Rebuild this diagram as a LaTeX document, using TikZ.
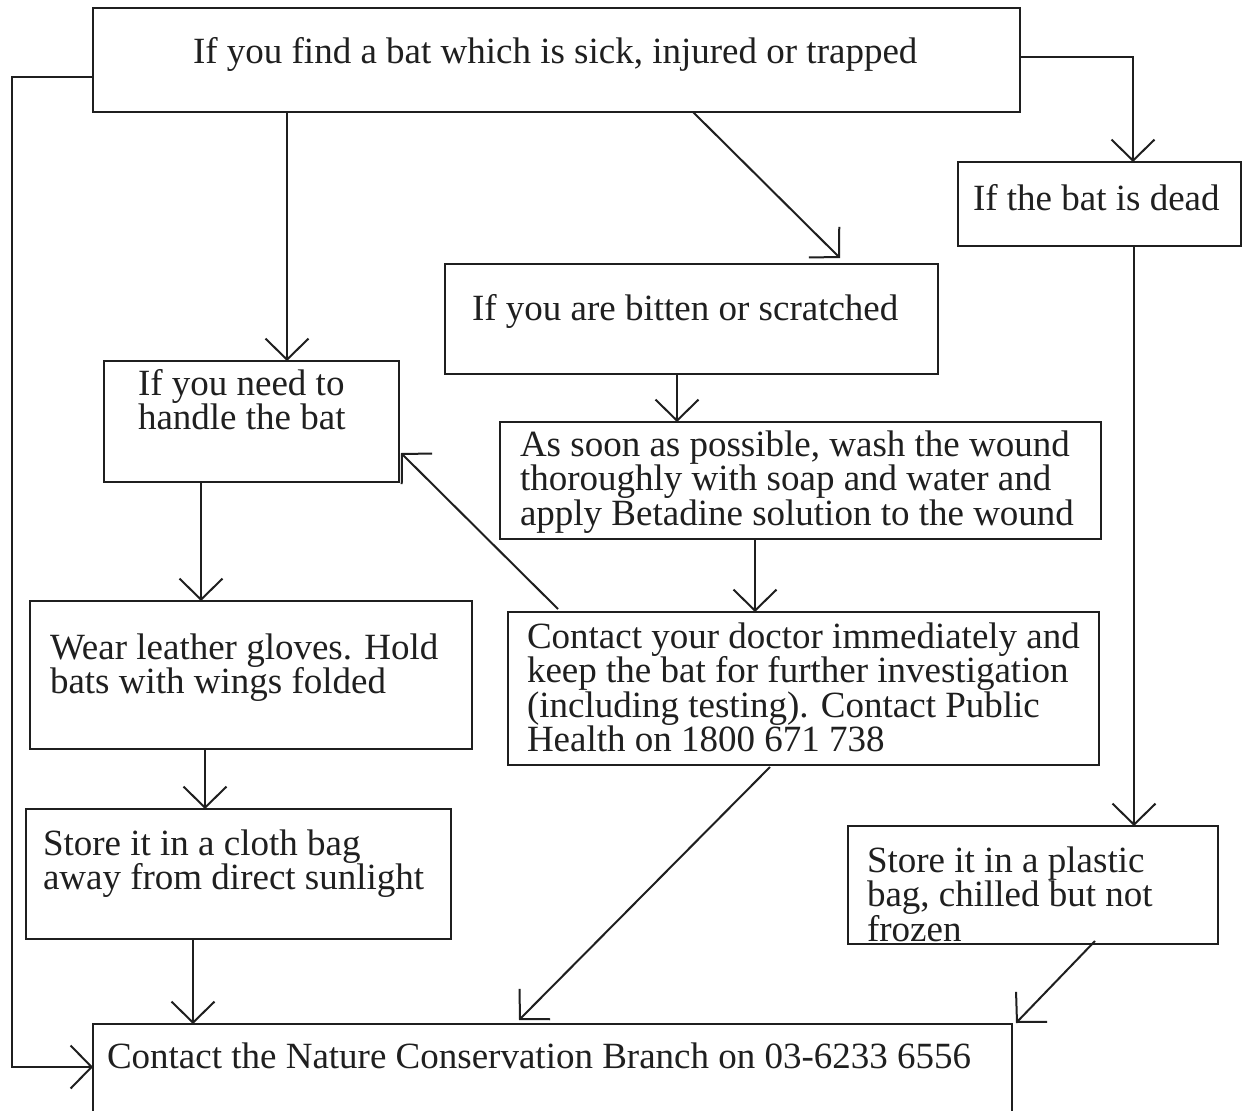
\documentclass[tikz,border=0pt]{standalone}
\usepackage{fontspec}
\setmainfont{Liberation Serif}
\usetikzlibrary{arrows.meta}
\newcommand\mytxt[1]{\vtop{\baselineskip=34.5pt\lineskiplimit=-100pt\lineskip=0pt\halign{##\hfil\cr#1\crcr}}}
\begin{document}
\begin{tikzpicture}[x=1pt,y=-1pt,
  box/.style={draw=black!88, line width=2.6pt, inner sep=0pt, outer sep=0pt, anchor=north west},
  txt/.style={anchor=base west, inner sep=0pt, outer sep=0pt, text=black!88, font=\fontsize{37}{34.5}\selectfont},
  conn/.style={draw=black!88, line width=2pt},
  arr/.style={conn, -{Straight Barb[length=21pt,width=43pt]}}]
\useasboundingbox (0,0) rectangle (1243,1111);
\fill[white] (0,0) rectangle (1243,1111);
% boxes
\node[box, minimum width=927pt, minimum height=104pt] (top) at (93,8) {};
\node[box, minimum width=283pt, minimum height=84pt] (dead) at (958,162) {};
\node[box, minimum width=493pt, minimum height=110pt] (bitten) at (445,264) {};
\node[box, minimum width=295pt, minimum height=121pt] (handle) at (104,361) {};
\node[box, minimum width=601pt, minimum height=117pt] (wash) at (500,422) {};
\node[box, minimum width=442pt, minimum height=148pt] (wear) at (30,601) {};
\node[box, minimum width=591pt, minimum height=153pt] (doctor) at (508,612) {};
\node[box, minimum width=425pt, minimum height=130pt] (cloth) at (26,809) {};
\node[box, minimum width=370pt, minimum height=118pt] (plastic) at (848,826) {};
\node[box, minimum width=919pt, minimum height=130pt] (bottom) at (93,1024) {};
% texts
\node[txt] (ttop) at (193,63) {If you find a bat which is sick, injured or trapped};
\node[txt] (tdead) at (973,210) {If the bat is dead};
\node[txt] (tbitten) at (472,320) {If you are bitten or scratched};
\node[txt] (thandle) at (138,395) {\mytxt{If you need to\cr handle the bat}};
\node[txt] (twash) at (520,456) {\mytxt{As soon as possible, wash the wound\cr thoroughly with soap and water and\cr apply Betadine solution to the wound}};
\node[txt] (twear) at (50,659) {\mytxt{Wear leather gloves. Hold\cr bats with wings folded}};
\node[txt] (tdoctor) at (527,648) {\mytxt{Contact your doctor immediately and\cr keep the bat for further investigation\cr (including testing). Contact Public\cr Health on 1800 671 738}};
\node[txt] (tcloth) at (43,855) {\mytxt{Store it in a cloth bag\cr away from direct sunlight}};
\node[txt] (tplastic) at (867,872) {\mytxt{Store it in a plastic\cr bag, chilled but not\cr frozen}};
\node[txt] (tbottom) at (107,1068) {Contact the Nature Conservation Branch on 03-6233 6556};
% connectors
\draw[arr] ([xshift=194pt]top.south west) -- ([xshift=183pt]handle.north west);
\draw[arr] ([xshift=600pt]top.south west) -- ([xshift=395pt,yshift=6pt]bitten.north west);
\draw[arr] ([yshift=-49pt]top.north east) -| ([xshift=175pt]dead.north west);
\coordinate (lc) at (12,77);
\draw[arr] ([yshift=-69pt]top.north west) -- (lc) |- ([yshift=-43pt]bottom.north west);
\draw[arr] ([xshift=97pt]handle.south west) -- ([xshift=171pt]wear.north west);
\draw[arr] ([xshift=175pt]wear.south west) -- ([xshift=179pt]cloth.north west);
\draw[arr] ([xshift=167pt]cloth.south west) -- ([xshift=100pt]bottom.north west);
\draw[arr] ([xshift=232pt]bitten.south west) -- ([xshift=177pt]wash.north west);
\draw[arr] ([xshift=255pt]wash.south west) -- ([xshift=247pt]doctor.north west);
\draw[arr] ([xshift=50pt,yshift=3pt]doctor.north west) -- ([xshift=2pt,yshift=29pt]handle.south east);
\draw[arr] ([xshift=262pt,yshift=-2pt]doctor.south west) -- ([xshift=426pt,yshift=4pt]bottom.north west);
\draw[arr] ([xshift=176pt]dead.south west) -- ([xshift=286pt]plastic.north west);
\draw[arr] ([xshift=247pt,yshift=3pt]plastic.south west) -- ([xshift=4pt,yshift=1pt]bottom.north east);
\end{tikzpicture}
\end{document}
